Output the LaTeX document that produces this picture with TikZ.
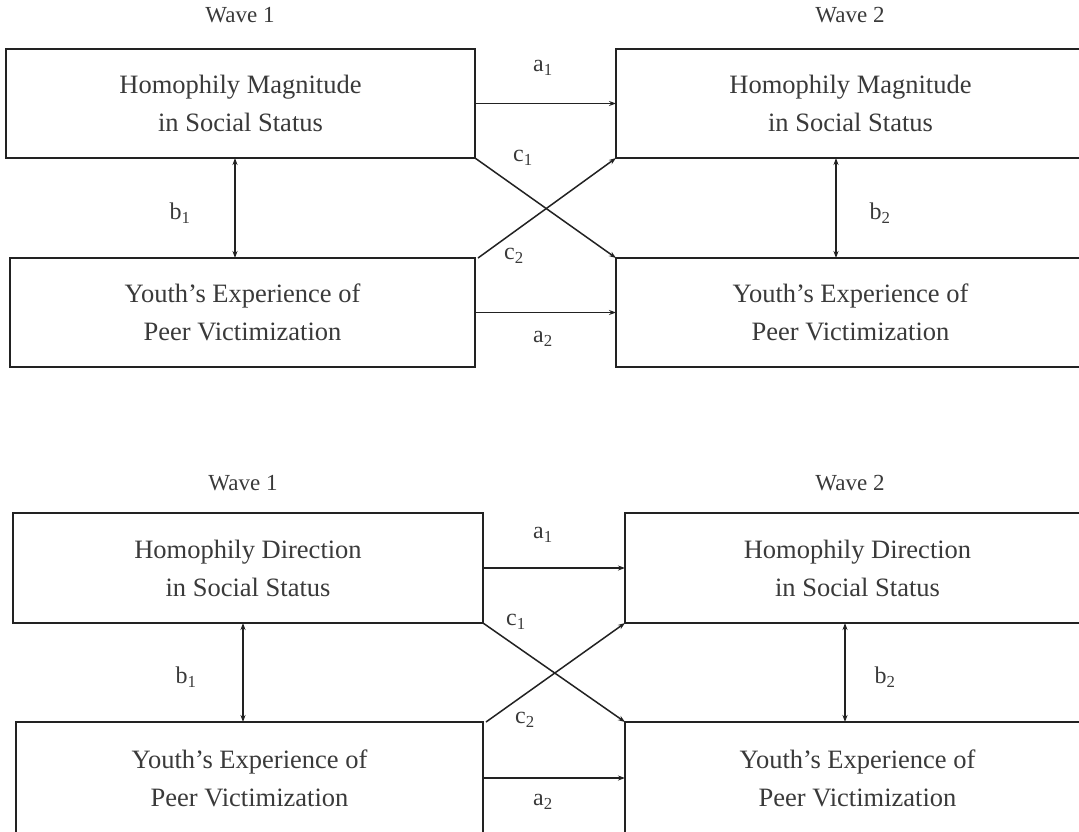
\documentclass[tikz,border=0pt]{standalone}
\usepackage{fontspec}
\setmainfont{Liberation Serif}
\usetikzlibrary{arrows.meta}
\definecolor{txt}{HTML}{3A3A3A}
\definecolor{ln}{HTML}{222222}
\tikzset{
  box/.style={draw=ln, line width=1.8pt, inner sep=0pt, outer sep=0pt, align=center,
    text=txt, font=\fontsize{26.5}{38}\selectfont},
  wave/.style={text=txt, font=\fontsize{23}{28}\selectfont},
  lab/.style={text=txt, font=\fontsize{24}{28}\selectfont},
  arr/.style={draw=ln, line width=1.5pt, -{Stealth[length=7pt,width=5pt]}},
  dbl/.style={draw=ln, line width=1.5pt, {Stealth[length=7pt,width=5pt]}-{Stealth[length=7pt,width=5pt]}},
}
\begin{document}
\begin{tikzpicture}[x=1pt,y=-1pt]
\clip (0,0) rectangle (1079,831);
\fill[white] (0,0) rectangle (1079,831);
% ---------- top panel ----------
\node[wave] (w1a) at (240,15) {Wave 1};
\node[wave] (w2a) at (850,15) {Wave 2};
\node[box, minimum width=469pt, minimum height=109pt] (TLa) at (240.5,103.5) {Homophily Magnitude\\in Social Status};
\node[box, minimum width=469pt, minimum height=109pt] (TRa) at (850.5,103.5) {Homophily Magnitude\\in Social Status};
\node[box, minimum width=465pt, minimum height=109pt] (BLa) at (242.5,312.5) {Youth’s Experience of\\Peer Victimization};
\node[box, minimum width=469pt, minimum height=109pt] (BRa) at (850.5,312.5) {Youth’s Experience of\\Peer Victimization};
\draw[arr] (TLa.east) -- (TRa.west);
\draw[arr] (BLa.east) -- (BRa.west);
\draw[arr] (TLa.south east) -- (BRa.north west);
\draw[arr] ([xshift=3pt]BLa.north east) -- (TRa.south west);
\draw[dbl] ([xshift=-5.5pt]TLa.south) -- ([xshift=-5.5pt]TLa.south |- BLa.north);
\draw[dbl] ([xshift=-14.5pt]TRa.south) -- ([xshift=-14.5pt]TRa.south |- BRa.north);
\node[lab] (a1a) at (543,68) {a\textsubscript{1}};
\node[lab] (c1a) at (523,158) {c\textsubscript{1}};
\node[lab] (c2a) at (514,256) {c\textsubscript{2}};
\node[lab] (a2a) at (543,339) {a\textsubscript{2}};
\node[lab] (b1a) at (180,213) {b\textsubscript{1}};
\node[lab] (b2a) at (880,213) {b\textsubscript{2}};
% ---------- bottom panel ----------
\node[wave] (w1b) at (243,483) {Wave 1};
\node[wave] (w2b) at (850,483) {Wave 2};
\node[box, minimum width=470pt, minimum height=110pt] (TLb) at (248,568) {Homophily Direction\\in Social Status};
\node[box, minimum width=465pt, minimum height=110pt] (TRb) at (857.5,568) {Homophily Direction\\in Social Status};
\node[box, minimum width=467pt, minimum height=112pt] (BLb) at (249.5,778) {Youth’s Experience of\\Peer Victimization};
\node[box, minimum width=465pt, minimum height=112pt] (BRb) at (857.5,778) {Youth’s Experience of\\Peer Victimization};
\draw[arr] (TLb.east) -- (TRb.west);
\draw[arr] (BLb.east) -- (BRb.west);
\draw[arr] (TLb.south east) -- (BRb.north west);
\draw[arr] ([xshift=3pt]BLb.north east) -- (TRb.south west);
\draw[dbl] ([xshift=-5pt]TLb.south) -- ([xshift=-5pt]TLb.south |- BLb.north);
\draw[dbl] ([xshift=-12.5pt]TRb.south) -- ([xshift=-12.5pt]TRb.south |- BRb.north);
\node[lab] (a1b) at (543,535) {a\textsubscript{1}};
\node[lab] (c1b) at (516,622) {c\textsubscript{1}};
\node[lab] (c2b) at (525,720) {c\textsubscript{2}};
\node[lab] (a2b) at (543,802) {a\textsubscript{2}};
\node[lab] (b1b) at (186,677) {b\textsubscript{1}};
\node[lab] (b2b) at (885,677) {b\textsubscript{2}};
\end{tikzpicture}
\end{document}
